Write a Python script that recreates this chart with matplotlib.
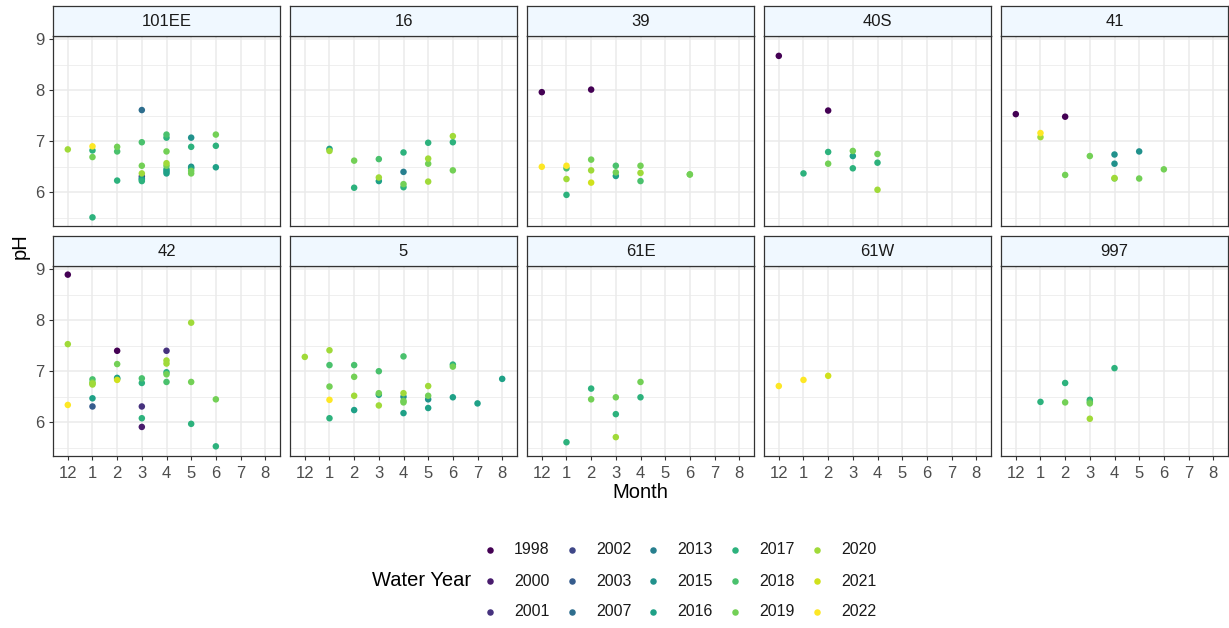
import numpy as np
import matplotlib
matplotlib.use("Agg")
import matplotlib.pyplot as plt
from matplotlib.ticker import FixedLocator

plt.rcParams['font.family'] = ['Liberation Sans', 'DejaVu Sans']

SITES = ['101EE', '16', '39', '40S', '41', '42', '5', '61E', '61W', '997']
MONTH_LEVELS = ['12', '1', '2', '3', '4', '5', '6', '7', '8']
YEARS = [1998, 2000, 2001, 2002, 2003, 2007, 2013, 2015, 2016, 2017, 2018, 2019, 2020, 2021, 2022]

# long-format data: site, month label, pH, water year
SITE = (['101EE'] * 33 + ['16'] * 18 + ['39'] * 18 + ['40S'] * 11 + ['41'] * 13 +
        ['42'] * 30 + ['5'] * 29 + ['61E'] * 8 + ['61W'] * 3 + ['997'] * 8)
MONTH = [
    # 101EE
    '12', '1', '1', '1', '1', '2', '2', '2', '3', '3', '3', '3', '3', '3', '3',
    '4', '4', '4', '4', '4', '4', '4', '4', '5', '5', '5', '5', '5', '5', '6', '6', '6',
    '3',
    # 16
    '1', '1', '2', '2', '3', '3', '3', '4', '4', '4', '4', '5', '5', '5', '5', '6', '6', '6',
    # 39
    '12', '12', '1', '1', '1', '1', '2', '2', '2', '2', '3', '3', '3', '4', '4', '4', '6', '6',
    # 40S
    '12', '1', '2', '2', '2', '3', '3', '3', '4', '4', '4',
    # 41
    '12', '1', '1', '2', '2', '3', '4', '4', '4', '4', '5', '5', '6',
    # 42
    '12', '12', '12', '1', '1', '1', '1', '1', '2', '2', '2', '2', '3', '3', '3', '3', '3',
    '4', '4', '4', '4', '4', '4', '5', '5', '5', '6', '6', '2', '1',
    # 5
    '12', '1', '1', '1', '1', '1', '2', '2', '2', '2', '3', '3', '3', '3',
    '4', '4', '4', '4', '4', '5', '5', '5', '5', '6', '6', '6', '7', '8', '4',
    # 61E
    '1', '2', '2', '3', '3', '3', '4', '4',
    # 61W
    '12', '1', '2',
    # 997
    '1', '2', '2', '3', '3', '3', '3', '4',
]
PH = [
    # 101EE
    6.84, 6.90, 6.82, 6.69, 5.51, 6.89, 6.80, 6.23, 7.61, 6.98, 6.52, 6.37, 6.31, 6.27, 6.22,
    7.13, 7.07, 6.80, 6.57, 6.52, 6.45, 6.41, 6.37, 7.07, 6.89, 6.50, 6.47, 6.42, 6.37, 7.13, 6.91, 6.49,
    6.25,
    # 16
    6.85, 6.81, 6.62, 6.09, 6.65, 6.29, 6.22, 6.78, 6.40, 6.16, 6.10, 6.97, 6.66, 6.56, 6.21, 7.10, 6.98, 6.43,
    # 39
    7.96, 6.50, 6.52, 6.47, 6.26, 5.95, 8.01, 6.64, 6.43, 6.19, 6.52, 6.39, 6.32, 6.52, 6.38, 6.22, 6.35, 6.35,
    # 40S
    8.67, 6.37, 7.60, 6.79, 6.56, 6.81, 6.71, 6.47, 6.75, 6.58, 6.05,
    # 41
    7.53, 7.16, 7.08, 7.48, 6.34, 6.71, 6.74, 6.56, 6.28, 6.27, 6.80, 6.27, 6.45,
    # 42
    8.89, 7.53, 6.34, 6.84, 6.78, 6.74, 6.47, 6.31, 7.40, 7.14, 6.87, 6.83, 6.86, 6.77, 6.31, 6.08, 5.91,
    7.40, 7.21, 7.15, 6.98, 6.94, 6.79, 7.95, 6.79, 5.97, 6.45, 5.53, 6.85, 6.76,
    # 5
    7.28, 7.41, 7.12, 6.70, 6.44, 6.08, 7.12, 6.89, 6.52, 6.24, 7.00, 6.57, 6.54, 6.33,
    7.29, 6.57, 6.50, 6.39, 6.18, 6.71, 6.52, 6.45, 6.28, 7.13, 7.09, 6.49, 6.37, 6.85, 6.42,
    # 61E
    5.61, 6.66, 6.45, 6.49, 6.16, 5.71, 6.79, 6.49,
    # 61W
    6.71, 6.83, 6.91,
    # 997
    6.40, 6.77, 6.39, 6.44, 6.40, 6.37, 6.07, 7.06,
]
YEAR = [
    # 101EE
    2020, 2022, 2017, 2019, 2017, 2019, 2018, 2017, 2007, 2018, 2019, 2020, 2001, 2015, 2017,
    2018, 2017, 2019, 2020, 2019, 2016, 2015, 2016, 2015, 2017, 2015, 2016, 2019, 2019, 2019, 2017, 2016,
    2016,
    # 16
    2016, 2020, 2019, 2017, 2018, 2020, 2016, 2017, 2013, 2019, 2017, 2017, 2020, 2019, 2020, 2020, 2017, 2019,
    # 39
    1998, 2022, 2022, 2018, 2020, 2017, 1998, 2019, 2020, 2021, 2018, 2019, 2016, 2019, 2020, 2018, 2019, 2019,
    # 40S
    1998, 2017, 1998, 2017, 2019, 2019, 2016, 2017, 2019, 2017, 2020,
    # 41
    1998, 2022, 2020, 1998, 2019, 2019, 2015, 2015, 2020, 2019, 2015, 2019, 2019,
    # 42
    1998, 2020, 2022, 2018, 2019, 2020, 2016, 2003, 1998, 2019, 2016, 2021, 2018, 2017, 2001, 2017, 2000,
    2001, 2020, 2020, 2017, 2019, 2018, 2020, 2019, 2017, 2019, 2017, 2016, 2020,
    # 5
    2020, 2020, 2018, 2019, 2022, 2017, 2018, 2019, 2020, 2016, 2018, 2019, 2016, 2020,
    2018, 2020, 2015, 2019, 2016, 2020, 2019, 2015, 2016, 2017, 2019, 2016, 2016, 2016, 2019,
    # 61E
    2017, 2017, 2019, 2019, 2017, 2020, 2019, 2017,
    # 61W
    2022, 2022, 2021,
    # 997
    2017, 2017, 2019, 2017, 2018, 2019, 2020, 2017,
]

# ---------------- styling / layout ----------------
W, H = 1229, 628
DPI = 100
fig = plt.figure(figsize=(W / DPI, H / DPI), dpi=DPI)
fig.patch.set_facecolor('white')

colors = plt.cm.viridis(np.linspace(0, 1, len(YEARS)))
year_color = {y: colors[i] for i, y in enumerate(YEARS)}

GRID = '#EBEBEB'
BORDER = '#333333'
TICKC = '#4D4D4D'

month_pos = {m: i for i, m in enumerate(MONTH_LEVELS)}
site_arr = np.array(SITE)
month_arr = np.array([month_pos[m] for m in MONTH], dtype=float)
ph_arr = np.array(PH)
year_arr = np.array(YEAR)

lo, hi = ph_arr.min(), ph_arr.max()
pad = 0.05 * (hi - lo)
ylim = (lo - pad, hi + pad)
xlim = (-0.6, len(MONTH_LEVELS) - 1 + 0.6)

left0 = 53
panel_w = 227
gap = 10
strip_h = 30
rows = [(6, 226), (236, 456)]  # strip top, plot bottom (pixels from top)


def px_axes(x0, y0, x1, y1):
    return fig.add_axes([x0 / W, 1 - y1 / H, (x1 - x0) / W, (y1 - y0) / H])


for k, site in enumerate(SITES):
    r, c = divmod(k, 5)
    x0 = left0 + c * (panel_w + gap)
    x1 = x0 + panel_w
    st, pb = rows[r]
    pt = st + strip_h

    ax = px_axes(x0, pt, x1, pb)
    ax.set_xlim(*xlim)
    ax.set_ylim(*ylim)
    ax.set_facecolor('white')
    ax.yaxis.set_major_locator(FixedLocator([6, 7, 8, 9]))
    ax.yaxis.set_minor_locator(FixedLocator([5.5, 6.5, 7.5, 8.5]))
    ax.xaxis.set_major_locator(FixedLocator(list(range(len(MONTH_LEVELS)))))
    ax.grid(True, which='major', color=GRID, lw=1.1)
    ax.grid(True, which='minor', axis='y', color=GRID, lw=0.55)
    ax.set_axisbelow(True)
    for sp in ax.spines.values():
        sp.set_color(BORDER)
        sp.set_linewidth(0.9)
    ax.tick_params(which='major', length=3.0, width=0.8, color=BORDER,
                   labelsize=12, labelcolor=TICKC)
    ax.tick_params(which='minor', length=0)
    ax.tick_params(axis='x', pad=4)
    ax.tick_params(axis='y', pad=3)
    if r == 1:
        ax.set_xticklabels(MONTH_LEVELS)
    else:
        ax.tick_params(axis='x', labelbottom=False, length=0)
    if c == 0:
        ax.set_yticklabels(['6', '7', '8', '9'])
    else:
        ax.tick_params(axis='y', labelleft=False, length=0)

    m = site_arr == site
    order = np.argsort(year_arr[m], kind='stable')
    xs = month_arr[m][order]
    ys = ph_arr[m][order]
    cs = [year_color[y] for y in year_arr[m][order]]
    ax.scatter(xs, ys, c=cs, s=22, linewidths=0, zorder=3)

    sax = px_axes(x0, st, x1, pt)
    sax.set_facecolor('#F0F8FF')
    sax.set_xticks([])
    sax.set_yticks([])
    for sp in sax.spines.values():
        sp.set_color(BORDER)
        sp.set_linewidth(0.9)
    sax.text(0.5, 0.5, site, ha='center', va='center', fontsize=12,
             color='#1A1A1A', transform=sax.transAxes)

# axis titles
fig.text(20 / W, 1 - 246 / H, 'pH', rotation=90, ha='center', va='center', fontsize=14.5)
fig.text(640.5 / W, 1 - 493 / H, 'Month', ha='center', va='center', fontsize=14.5)

# legend (manual, column-major like ggplot)
lax = fig.add_axes([0, 0, 1, 1])
lax.set_xlim(0, W)
lax.set_ylim(H, 0)
lax.axis('off')
lax.patch.set_alpha(0)
col_x = [490, 572, 653, 735, 817]
row_y = [550, 581, 612]
for i, y in enumerate(YEARS):
    cc, rr = divmod(i, 3)
    lax.scatter([col_x[cc]], [row_y[rr]], s=22, color=year_color[y], linewidths=0)
    lax.text(col_x[cc] + 24, row_y[rr], str(y), ha='left', va='center', fontsize=11.5, color='#1A1A1A')
lax.text(422, row_y[1], 'Water Year', ha='center', va='center', fontsize=14.5)

fig.savefig('out.png', dpi=DPI)
